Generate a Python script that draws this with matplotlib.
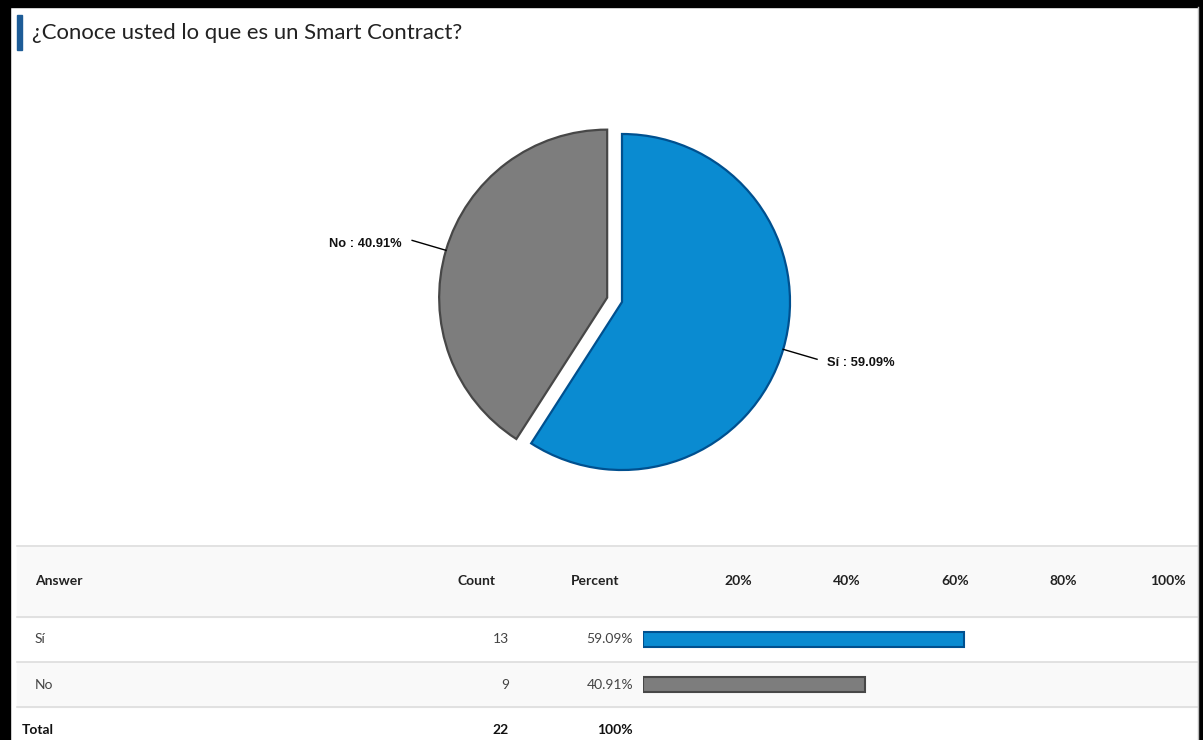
"""
Pie chart plus results table for the question
"¿Conoce usted lo que es un Smart Contract?"
"""

import numpy as np
import matplotlib
matplotlib.use("Agg")
import matplotlib.pyplot as plt
import matplotlib.transforms as mtransforms
from matplotlib.patches import Rectangle

# data
question = "¿Conoce usted lo que es un Smart Contract?"
answers = ["Sí", "No"]
counts = [13, 9]
percents = [59.09, 40.91]
total_label = "Total"
total_count = 22
total_percent = "100%"
scale_ticks = [20, 40, 60, 80, 100]

BLUE = "#0a8bd1"
BLUE_EDGE = "#00508f"
GRAY = "#7d7d7d"
GRAY_EDGE = "#474747"
slice_colors = [BLUE, GRAY]
slice_edges = [BLUE_EDGE, GRAY_EDGE]

W, H = 1203, 740
fig = plt.figure(figsize=(W / 100, H / 100), dpi=100)

# background axes in pixel units (frame, table rules, text)
bg = fig.add_axes([0, 0, 1, 1])
bg.set_xlim(0, W)
bg.set_ylim(H, 0)
bg.axis("off")

# black frame around the screenshot
bg.add_patch(Rectangle((0, 0), 10, H, color="black", zorder=5))
bg.add_patch(Rectangle((0, 0), W, 7, color="black", zorder=5))
bg.add_patch(Rectangle((1199, 0), 4, H, color="black", zorder=5))
bg.plot([1198, 1198], [7, H], color="#bbbbbb", lw=1, zorder=5)

# title
bg.add_patch(Rectangle((17, 15), 5, 35, color="#1d5c97", zorder=3))
bg.text(32, 33, question, fontsize=15.9, color="#222222", va="center",
        ha="left", family="Lato")

# pie
cx, cy, r = 622, 302, 168
k = 1.6
ax_pie = fig.add_axes([(cx - k * r) / W, (H - cy - k * r) / H,
                       2 * k * r / W, 2 * k * r / H])
explode = [0.0, 0.092]
wedges, _ = ax_pie.pie(percents, colors=slice_colors, startangle=90,
                       counterclock=False, explode=explode,
                       wedgeprops=dict(linewidth=1.6))
for w, ec in zip(wedges, slice_edges):
    w.set_edgecolor(ec)
ax_pie.set_xlim(-k, k)
ax_pie.set_ylim(-k, k)
ax_pie.set_aspect("equal")
ax_pie.axis("off")

for w, lab, pct, ex in zip(wedges, answers, percents, explode):
    mid = np.deg2rad((w.theta1 + w.theta2) / 2)
    ox, oy = ex * np.cos(mid), ex * np.sin(mid)
    edge = (ox + np.cos(mid), oy + np.sin(mid))
    tip = (ox + 1.21 * np.cos(mid), oy + 1.21 * np.sin(mid))
    side = 1 if np.cos(mid) > 0 else -1
    ax_pie.plot([edge[0], tip[0]], [edge[1], tip[1]], color="black", lw=1)
    ax_pie.text(tip[0] + side * 0.06, tip[1] - 0.02, f"{lab} : {pct:.2f}%",
                ha="left" if side > 0 else "right", va="center",
                fontsize=9.3, fontweight="bold", family="Liberation Sans",
                color="#111111")

# table
x0, x1 = 17, 1197
bg.add_patch(Rectangle((x0, 547), x1 - x0, 70, color="#f9f9f9", zorder=0))
bg.add_patch(Rectangle((x0, 662), x1 - x0, 45, color="#f9f9f9", zorder=0))
for yl in [546, 617, 662, 707]:
    bg.plot([x0, x1], [yl, yl], color="#dddddd", lw=1.2, zorder=1)

hdr_y = 581
bg.text(35, hdr_y, "Answer", fontsize=10, fontweight="bold", color="#222222",
        va="center", family="Lato")
bg.text(496, hdr_y, "Count", fontsize=10, fontweight="bold", color="#222222",
        va="center", ha="right", family="Lato")
bg.text(619, hdr_y, "Percent", fontsize=10, fontweight="bold",
        color="#222222", va="center", ha="right", family="Lato")

row_y = [639, 685]
for yy, lab, c, p in zip(row_y, answers, counts, percents):
    bg.text(35, yy, lab, fontsize=10, color="#444444", va="center",
            family="Lato")
    bg.text(509, yy, str(c), fontsize=10, color="#444444", va="center",
            ha="right", family="Lato")
    bg.text(633, yy, f"{p:.2f}%", fontsize=10, color="#444444",
            va="center", ha="right", family="Lato")

bg.text(22, 730, total_label, fontsize=10, fontweight="bold",
        color="#111111", va="center", family="Lato")
bg.text(509, 730, str(total_count), fontsize=10, fontweight="bold",
        color="#111111", va="center", ha="right", family="Lato")
bg.text(633, 730, total_percent, fontsize=10, fontweight="bold",
        color="#111111", va="center", ha="right", family="Lato")

# bars inside the table
bx0, bx1 = 643, 1186
ax_bar = fig.add_axes([bx0 / W, (H - 707) / H, (bx1 - bx0) / W, 90 / H])
ax_bar.set_xlim(0, 100)
ax_bar.set_ylim(1.5, -0.5)
ax_bar.axis("off")
ax_bar.patch.set_alpha(0)
ax_bar.barh(range(len(answers)), percents, height=0.33, color=slice_colors,
            edgecolor=slice_edges, linewidth=1.5, align="center")

trans = mtransforms.blended_transform_factory(ax_bar.transData, bg.transData)
for t in scale_ticks:
    bg.text(t, hdr_y, f"{t}%", transform=trans, fontsize=10,
            fontweight="bold", color="#222222", va="center", ha="right",
            family="Lato")

fig.savefig("out.png", dpi=100)
